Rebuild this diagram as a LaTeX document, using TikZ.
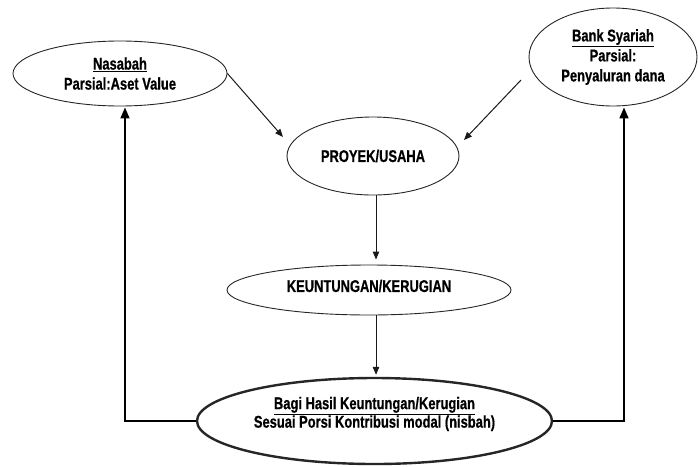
\documentclass[tikz,border=0pt]{standalone}
\usepackage{fontspec}
\setmainfont[FakeStretch=0.76,FakeBold=0.6]{Liberation Sans}
\usetikzlibrary{arrows.meta,shapes.geometric}
\tikzset{
  lbl/.style={align=center,font=\fontsize{17}{20}\selectfont\bfseries,inner sep=0pt},
  oval/.style={ellipse,draw=black!85,line width=0.9pt,inner sep=0pt,lbl},
  thin arrow/.style={draw=black!90,line width=1pt,-{Triangle[length=8pt,width=6.5pt]}},
  back arrow/.style={draw=black,line width=1.6pt,-{Triangle[length=11pt,width=9pt]}}
}
\begin{document}
\begin{tikzpicture}[x=1pt,y=-1pt]
\useasboundingbox (0,0) rectangle (698,466);
\node[oval,minimum width=214,minimum height=65] (nas) at (120,73.5) {\underline{Nasabah}\\Parsial:Aset Value};
\node[oval,minimum width=168,minimum height=98] (bank) at (613,57) {\underline{Bank Syariah}\\Parsial:\\Penyaluran dana};
\node[oval,minimum width=172,minimum height=78] (pro) at (373,156) {PROYEK/USAHA};
\node[oval,minimum width=284,minimum height=50] (keu) at (369,290) {};
\node[lbl] (keutext) at ([yshift=4pt]keu.center) {KEUNTUNGAN/KERUGIAN};
\node[oval,line width=2.4pt,minimum width=355,minimum height=86] (bagi) at (374.5,421) {};
\node[lbl,font=\fontsize{17}{18.5}\selectfont\bfseries] (bagitext) at ([yshift=7pt]bagi.center) {\underline{Bagi Hasil Keuntungan/Kerugian}\\Sesuai Porsi Kontribusi modal (nisbah)};
\coordinate (t1) at (283,137);
\coordinate (s2) at (521,80);
\coordinate (t2) at (464,140);
\draw[thin arrow] (nas.east) -- (t1);
\draw[thin arrow] (s2) -- (t2);
\draw[thin arrow,shorten >=5pt] ([xshift=3]pro.south) -- ([xshift=7]keu.north);
\draw[thin arrow,shorten >=2pt] ([xshift=7]keu.south) -- ([xshift=1.5]bagi.north);
\draw[back arrow,shorten >=1pt] (bagi.west) -| ([xshift=5]nas.south);
\draw[back arrow,shorten >=1pt] (bagi.east) -| ([xshift=11]bank.south);
\end{tikzpicture}
\end{document}
